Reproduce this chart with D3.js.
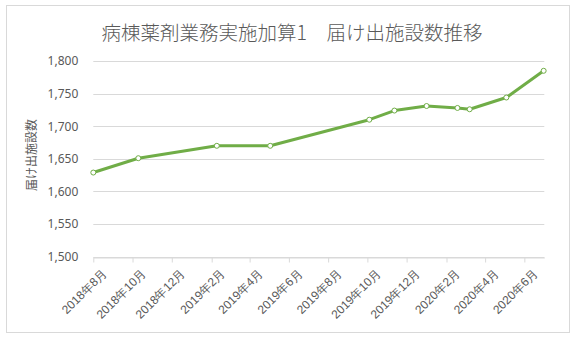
<!DOCTYPE html>
<html>
<head>
<meta charset="utf-8">
<script src="https://cdn.jsdelivr.net/npm/d3@7"></script>
<style>
  body { margin: 0; background: #fff; }
  svg { font-family: "Noto Sans CJK JP", "Noto Sans", sans-serif; }
</style>
</head>
<body>
<script>
// 届け出施設数の推移
let fechas = ["2018-08-01", "2018-10-10", "2019-02-09", "2019-05-03", "2019-10-04", "2019-11-12",
              "2020-01-01", "2020-02-18", "2020-03-08", "2020-05-04", "2020-07-01"];
let valores = [1629, 1651, 1670, 1670, 1710, 1724, 1731, 1728, 1726, 1744, 1785];
let ticksY = [1500, 1550, 1600, 1650, 1700, 1750, 1800];
let ticksX = ["2018年8月", "2018年10月", "2018年12月", "2019年2月", "2019年4月", "2019年6月",
              "2019年8月", "2019年10月", "2019年12月", "2020年2月", "2020年4月", "2020年6月"];

let titulo = "病棟薬剤業務実施加算1　届け出施設数推移";
let tituloY = "届け出施設数";

let w = 580;
let h = 339;
let gris = "#595959";
let linea = "#d9d9d9";
let verde = "#70ad47";

let parse = d3.timeParse("%Y-%m-%d");
let datos = fechas.map((f, i) => ({ fecha: parse(f), valor: valores[i] }));

// etiquetas "2018年8月" -> fecha
let tickFechas = ticksX.map((t) => {
    let m = t.match(/(\d+)年(\d+)月/);
    return new Date(+m[1], +m[2] - 1, 1);
});

let x = d3.scaleTime()
    .domain([parse("2018-08-01"), parse("2020-07-02")])
    .range([93.3, 544.3]);

let y = d3.scaleLinear()
    .domain([1500, 1800])
    .range([256.7, 61]);

let svg = d3.select("body")
    .append("svg")
    .attr("width", w)
    .attr("height", h);

// marco del grafico
svg.append("rect")
    .attr("x", 6.5)
    .attr("y", 5.5)
    .attr("width", 563)
    .attr("height", 327)
    .attr("fill", "#fff")
    .attr("stroke", linea);

svg.append("text")
    .text(titulo)
    .attr("x", 292)
    .attr("y", 39.5)
    .attr("text-anchor", "middle")
    .attr("font-size", 19.5)
    .attr("font-weight", 300)
    .attr("fill", gris);

// lineas de cuadricula
svg.append("g")
    .selectAll("line")
    .data(ticksY)
    .enter()
    .append("line")
    .attr("x1", x.range()[0])
    .attr("x2", x.range()[1])
    .attr("y1", (d) => Math.round(y(d)) + 0.5)
    .attr("y2", (d) => Math.round(y(d)) + 0.5)
    .attr("stroke", linea)
    .attr("stroke-width", 1);

// eje Y
let ejeY = svg.append("g")
    .attr("transform", "translate(" + x.range()[0] + ",0)")
    .call(d3.axisLeft(y).tickValues(ticksY).tickFormat(d3.format(",")).tickSize(0).tickPadding(15));
ejeY.select(".domain").remove();
ejeY.selectAll("text")
    .attr("font-size", 12)
    .attr("fill", gris)
    .attr("font-family", "\"Noto Sans\", sans-serif");

// eje X
let ejeX = svg.append("g")
    .attr("transform", "translate(0," + (Math.round(y(1500)) + 0.5) + ")")
    .call(d3.axisBottom(x).tickValues(tickFechas).tickFormat((d, i) => ticksX[i]).tickSizeOuter(0).tickSizeInner(5));
ejeX.select(".domain").attr("stroke", linea);
ejeX.selectAll(".tick line").attr("stroke", linea);
ejeX.selectAll("text")
    .attr("font-size", 12)
    .attr("fill", gris)
    .attr("text-anchor", "end")
    .attr("dy", "0.35em")
    .attr("transform", "translate(5,8) rotate(-45)");

// titulo del eje Y
svg.append("text")
    .text(tituloY)
    .attr("transform", "translate(36,155) rotate(-90)")
    .attr("text-anchor", "middle")
    .attr("font-size", 12)
    .attr("fill", gris);

// serie
let lineaGen = d3.line()
    .x((d) => x(d.fecha))
    .y((d) => y(d.valor));

svg.append("path")
    .datum(datos)
    .attr("d", lineaGen)
    .attr("fill", "none")
    .attr("stroke", verde)
    .attr("stroke-width", 3)
    .attr("stroke-linejoin", "round")
    .attr("stroke-linecap", "round");

svg.selectAll("circle")
    .data(datos)
    .enter()
    .append("circle")
    .attr("cx", (d) => x(d.fecha))
    .attr("cy", (d) => y(d.valor))
    .attr("r", 2.5)
    .attr("fill", "#fff")
    .attr("stroke", verde)
    .attr("stroke-width", 1);
</script>
</body>
</html>
